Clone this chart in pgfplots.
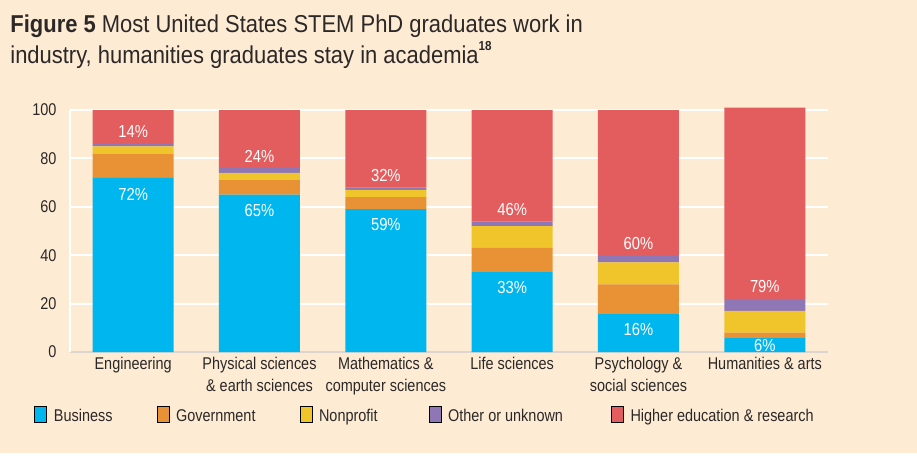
\documentclass[border=0pt]{standalone}
\usepackage{pgfplots}
\pgfplotsset{compat=1.18}
\usepackage{fontspec}
\setmainfont{Liberation Sans}[FakeStretch=0.85]
\newfontfamily\titlefont{Liberation Sans}[FakeStretch=0.9]
\definecolor{bg}{HTML}{FDEBD4}
\definecolor{txt}{HTML}{2B2827}
\definecolor{cblue}{HTML}{00B6EE}
\definecolor{corange}{HTML}{E99235}
\definecolor{cyellow}{HTML}{F0C52C}
\definecolor{cpurple}{HTML}{8F76B4}
\definecolor{cred}{HTML}{E35D5F}
\definecolor{axgray}{HTML}{DCD6CE}
\pgfplotsset{ybar legend/.style={legend image code/.code={\fill[##1,draw=none] (0pt,-3.6pt) rectangle (7.5pt,3.6pt);}}}
\begin{document}
\begin{tikzpicture}
\fill[white] (0,0) rectangle (458.5pt,-228.5pt);
\fill[bg] (0,0) rectangle (458.5pt,-226.5pt);
\node[anchor=base west, inner sep=0pt, text=txt, font=\titlefont\fontsize{12.2}{14}\selectfont] at (5pt,-16.15pt) {\textbf{Figure 5} Most United States STEM PhD graduates work in};
\node[anchor=base west, inner sep=0pt, text=txt, font=\titlefont\fontsize{12.2}{14}\selectfont] at (5pt,-31.5pt) {industry, humanities graduates stay in academia\raisebox{0.52em}{\fontsize{6.5}{7}\selectfont\bfseries 18}};
\begin{axis}[
  at={(35pt,-176pt)}, anchor=south west,
  scale only axis, width=379pt, height=121pt,
  ybar stacked, bar width=40.5pt,
  xmin=-0.5, xmax=5.5, ymin=0, ymax=100, clip=false,
  xtick={0,...,5},
  xticklabels={Engineering, Physical sciences\\\& earth sciences, Mathematics \&\\computer sciences, Life sciences, Psychology \&\\social sciences, Humanities \& arts},
  xticklabel style={align=center, font=\fontsize{8.5}{10.85}\selectfont, text=txt, yshift=1pt},
  ytick={0,20,...,100},
  yticklabel style={font=\fontsize{8.5}{10}\selectfont, text=txt, xshift=-3.2pt},
  /pgf/number format/assume math mode=true,
  major tick length=0pt,
  ymajorgrids, grid style={white, line width=1pt},
  axis x line*=bottom, axis y line*=left,
  x axis line style={draw=axgray, line width=0.8pt, -},
  y axis line style={draw=white, line width=0.8pt, -},
  legend columns=5,
  legend style={draw=none, fill=none, inner xsep=0pt, inner ysep=0pt,
    at={(axis description cs:-0.0475,-0.2584)}, anchor=west,
    font=\fontsize{8.5}{10}\selectfont, text=txt,
    nodes={inner sep=0pt, text depth=0pt, text height=6.1pt, yshift=1.5pt},
    /tikz/every odd column/.append style={column sep=3.35pt},
    /tikz/every even column/.append style={column sep=22pt}},
]
\addplot[fill=cblue, draw=none] coordinates {(0,72) (1,65) (2,59) (3,33) (4,16) (5,6)};
\addplot[fill=corange, draw=none] coordinates {(0,10) (1,6) (2,5) (3,10) (4,12) (5,2)};
\addplot[fill=cyellow, draw=none] coordinates {(0,3) (1,3) (2,3) (3,9) (4,9) (5,9)};
\addplot[fill=cpurple, draw=none] coordinates {(0,1) (1,2) (2,1) (3,2) (4,3) (5,5)};
\addplot[fill=cred, draw=none] coordinates {(0,14) (1,24) (2,32) (3,46) (4,60) (5,79)};
\legend{Business, Government, Nonprofit\rule{3.5pt}{0pt}, Other or unknown\rule{2pt}{0pt}, Higher education \& research}
\coordinate (b0) at (axis cs:0,65.3);
\coordinate (b1) at (axis cs:1,58.5);
\coordinate (b2) at (axis cs:2,52.6);
\coordinate (b3) at (axis cs:3,26.5);
\coordinate (b4) at (axis cs:4,9.4);
\coordinate (b5) at (axis cs:5,2.8);
\coordinate (r0) at (axis cs:0,91);
\coordinate (r1) at (axis cs:1,80.8);
\coordinate (r2) at (axis cs:2,73);
\coordinate (r3) at (axis cs:3,58.8);
\coordinate (r4) at (axis cs:4,45);
\coordinate (r5) at (axis cs:5,27);
\end{axis}
\tikzset{pl/.style={text=white, font=\fontsize{8.7}{10}\selectfont, inner sep=0pt}}
\node[pl] at (b0) {72\%};
\node[pl] at (b1) {65\%};
\node[pl] at (b2) {59\%};
\node[pl] at (b3) {33\%};
\node[pl] at (b4) {16\%};
\node[pl] at (b5) {6\%};
\node[pl] at (r0) {14\%};
\node[pl] at (r1) {24\%};
\node[pl] at (r2) {32\%};
\node[pl] at (r3) {46\%};
\node[pl] at (r4) {60\%};
\node[pl] at (r5) {79\%};
\end{tikzpicture}
\end{document}
